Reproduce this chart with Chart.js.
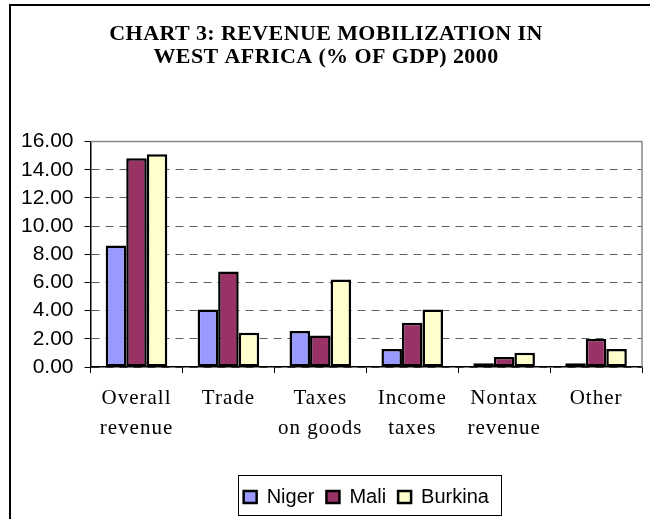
<!DOCTYPE html>
<html><head><meta charset="utf-8">
<script src="https://cdn.jsdelivr.net/npm/chart.js@4"></script>
<style>html,body{margin:0;padding:0;background:#fff;} canvas{display:block;}</style>
</head><body>
<canvas id="c" width="650" height="519"></canvas>
<script>
const categories = [['Overall','revenue'], 'Trade', ['Taxes','on goods'], ['Income','taxes'], ['Nontax','revenue'], 'Other'];
const seriesNames = ['Niger', 'Mali', 'Burkina'];
const niger   = [8.62, 4.08, 2.55, 1.27, 0.26, 0.26];
const mali    = [14.82, 6.77, 2.24, 3.14, 0.71, 1.98];
const burkina = [15.10, 2.43, 6.21, 4.08, 1.02, 1.27];
const yTickLabels = ['0.00','2.00','4.00','6.00','8.00','10.00','12.00','14.00','16.00'];
const titleLines = ['CHART 3: REVENUE MOBILIZATION IN', 'WEST AFRICA (% OF GDP) 2000'];
const seriesColors = ['#9999FF', '#993366', '#FFFFCC'];

function wrapSpacing(obj, name, ls) {
  if (!obj || obj['_ws_' + name]) return;
  const orig = obj[name];
  obj[name] = function (...args) {
    const c = this.ctx; c.save(); c.letterSpacing = ls; orig.apply(this, args); c.restore();
  };
  obj['_ws_' + name] = true;
}

const decoPlugin = {
  id: 'deco',
  beforeDraw(chart) {
    wrapSpacing(chart.scales.x, 'drawLabels', '1px');
    wrapSpacing(chart.titleBlock, 'draw', '0.4px');
    const ctx = chart.ctx;
    ctx.save();
    ctx.fillStyle = '#fff';
    ctx.fillRect(0, 0, chart.width, chart.height);
    ctx.strokeStyle = '#000'; ctx.lineWidth = 2;
    ctx.beginPath(); ctx.moveTo(10, chart.height); ctx.lineTo(10, 5); ctx.lineTo(chart.width, 5); ctx.stroke();
    ctx.restore();
  },
  afterDraw(chart) {
    const ctx = chart.ctx, a = chart.chartArea;
    ctx.save();
    ctx.strokeStyle = '#888'; ctx.lineWidth = 1.5;
    ctx.beginPath(); ctx.moveTo(a.left, a.top); ctx.lineTo(a.right, a.top); ctx.lineTo(a.right, a.bottom); ctx.stroke();
    const lg = chart.legend;
    if (lg && lg.legendHitBoxes && lg.legendHitBoxes.length) {
      const hb = lg.legendHitBoxes;
      const l = hb[0].left - 6, r = hb[hb.length - 1].left + hb[hb.length - 1].width + 12;
      ctx.strokeStyle = '#000'; ctx.lineWidth = 1;
      ctx.strokeRect(Math.round(l) + 0.5, Math.round(lg.top) + 0.5, Math.round(r - l), Math.round(lg.bottom - lg.top) - 2);
    }
    ctx.restore();
  }
};

new Chart(document.getElementById('c'), {
  type: 'bar',
  data: {
    labels: categories,
    datasets: [
      { label: seriesNames[0], data: niger, backgroundColor: seriesColors[0], borderColor: '#000', borderWidth: 2.5 },
      { label: seriesNames[1], data: mali, backgroundColor: seriesColors[1], borderColor: '#000', borderWidth: 2.5 },
      { label: seriesNames[2], data: burkina, backgroundColor: seriesColors[2], borderColor: '#000', borderWidth: 2.5 }
    ]
  },
  options: {
    responsive: false,
    animation: false,
    devicePixelRatio: 1,
    layout: { padding: { left: 10, right: 8, top: 0, bottom: 2 } },
    datasets: { bar: { categoryPercentage: 0.67, barPercentage: 1.0, borderSkipped: false } },
    plugins: {
      title: {
        display: true, text: titleLines, color: '#000',
        font: { family: 'Liberation Serif', size: 22, weight: 'bold', lineHeight: 1.08 },
        padding: { top: 22, bottom: 72 }
      },
      legend: {
        display: true, position: 'bottom', fullSize: false,
        labels: { color: '#000', font: { family: 'Liberation Sans', size: 20 }, boxWidth: 13, boxHeight: 12, padding: 12 }
      },
      tooltip: { enabled: false }
    },
    scales: {
      x: {
        ticks: { color: '#000', font: { family: 'Liberation Serif', size: 21, lineHeight: 1.43 }, padding: 10, maxRotation: 0, autoSkip: false },
        grid: { display: true, drawOnChartArea: false, drawTicks: true, tickLength: 6, tickColor: '#000', offset: true },
        border: { display: true, color: '#000', width: 1.5 },
        afterFit(s) { s.height = 108; }
      },
      y: {
        min: 0, max: 16,
        ticks: { stepSize: 2, autoSkip: false, color: '#000', padding: 11, font: { family: 'Liberation Sans', size: 21 }, callback: (v, i) => yTickLabels[i] },
        grid: { color: '#606060', lineWidth: 1, tickLength: 6, tickColor: '#000', tickBorderDash: [], drawTicks: true },
        border: { display: true, color: '#000', width: 1.5, dash: [8, 6] }
      }
    }
  },
  plugins: [decoPlugin]
});
</script>
</body></html>
